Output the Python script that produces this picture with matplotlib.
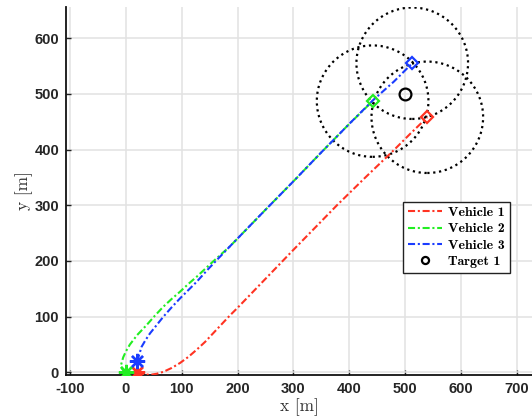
import matplotlib
matplotlib.use("Agg")
import matplotlib.pyplot as plt
from matplotlib.patches import Circle

# ---- data ----
v1_x = [20, 30, 43, 55, 67, 82, 97, 112, 127, 142, 156, 171, 186, 200, 250, 300, 340, 378, 430, 481, 510, 540]
v1_y = [0, -3, -4.5, -2.5, 1, 8, 17, 28, 41, 55, 70, 86, 102, 116, 168, 220, 261, 300, 351, 400, 429, 458]

v2_x = [0, -6, -9, -5, 0, 7, 20, 37, 52, 67, 82, 97, 112, 127, 142, 156, 186, 250, 300, 350, 400, 442]
v2_y = [0, 5, 13, 27, 38, 50, 67, 85, 102, 118, 132, 145, 159, 172, 186, 199, 226, 292, 343, 395, 446, 487]

v3_x = [20, 24, 28, 35, 43, 55, 67, 82, 97, 112, 127, 145, 163, 186, 250, 300, 350, 400, 442, 480, 513]
v3_y = [20, 33, 46, 58, 70, 85, 100, 117, 133, 148, 163, 183, 202, 226, 292, 343, 395, 446, 488, 522, 555]

target_x = [500]
target_y = [500]
sensor_radius = 100

labels = ["Vehicle 1", "Vehicle 2", "Vehicle 3", "Target 1"]
colors = ["#ff3322", "#22ee22", "#1a3cff"]
xticks = [-100, 0, 100, 200, 300, 400, 500, 600, 700]
yticks = [0, 100, 200, 300, 400, 500, 600]

plt.rcParams['axes.unicode_minus'] = False

fig = plt.figure(figsize=(5.32, 4.20), dpi=100)
ax = fig.add_axes([66/532, 45/420, 466/532, 368/420])

dash = (0, (3.4, 1.3, 1.0, 1.3))
paths = [(v1_x, v1_y), (v2_x, v2_y), (v3_x, v3_y)]
handles = []
for (px, py), c, lab in zip(paths, colors, labels[:3]):
    h, = ax.plot(px, py, color=c, lw=1.5, linestyle=dash, label=lab, zorder=3)
    handles.append(h)
    ax.plot(px[0], py[0], marker=(8, 2, 0), ms=11, mew=1.7, color=c, zorder=4)
    ax.plot(px[-1], py[-1], marker='D', ms=6.5, mew=1.6, mfc='none', mec=c, zorder=4)
    ax.add_patch(Circle((px[-1], py[-1]), sensor_radius, fill=False, ec='black',
                        lw=1.6, linestyle=':', zorder=2))

ht, = ax.plot(target_x, target_y, 'o', ms=8.5, mfc='none', mec='black', mew=1.6,
              label=labels[3], zorder=4)
handles.append(ht)

ax.set_xlim(-107.5, 727.6)
ax.set_ylim(-4.7, 656)
ax.set_xticks(xticks)
ax.set_yticks(yticks)
ax.grid(True, color='#e2e2e2', lw=1.1)
ax.set_axisbelow(True)
for s in ['top', 'right']:
    ax.spines[s].set_visible(False)
for s in ['left', 'bottom']:
    ax.spines[s].set_linewidth(1.3)
    ax.spines[s].set_color('#111111')
ax.tick_params(direction='in', length=3.5, width=1, color='#222222', pad=5)
for lab in ax.get_xticklabels() + ax.get_yticklabels():
    lab.set_fontfamily('Liberation Sans')
    lab.set_fontweight('bold')
    lab.set_fontsize(10.5)
    lab.set_color('#262626')

ax.set_xlabel("x [m]", fontfamily='cmr10', fontsize=12.5, color='#333333', labelpad=2)
ax.set_ylabel("y [m]", fontfamily='cmr10', fontsize=12.5, color='#333333', labelpad=1)

leg = ax.legend(handles=handles, loc='upper right', bbox_to_anchor=(0.953, 0.471),
                borderaxespad=0, fancybox=False, framealpha=1, edgecolor='#222222',
                prop={'family': 'cmb10', 'size': 10}, handlelength=2.4,
                handletextpad=0.5, labelspacing=0.25, markerscale=0.6,
                borderpad=0.35)
leg.get_frame().set_linewidth(1.0)

fig.savefig("out.png", dpi=100)
